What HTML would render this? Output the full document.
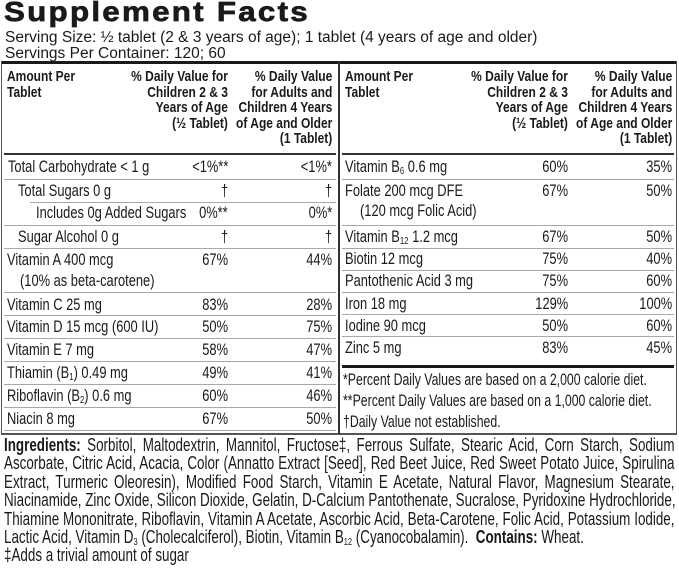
<!DOCTYPE html>
<html><head><meta charset="utf-8"><style>
body{margin:0;width:679px;height:584px;background:#fff;position:relative;overflow:hidden;font-family:"Liberation Sans",Arial,sans-serif;color:#1a1a1a}
div{position:absolute;white-space:nowrap}
.t{font-size:16.5px;line-height:18px;transform:scaleX(.78);transform-origin:left center}
.r{font-size:16.5px;line-height:18px;transform:scaleX(.78);transform-origin:right center;text-align:right}
.h{font-size:15px;font-weight:bold;line-height:15.5px;transform:scaleX(.8);transform-origin:left top}
.hr{font-size:15px;font-weight:bold;line-height:15.5px;transform:scaleX(.8);transform-origin:right top;text-align:right}
.s{height:1px;background:#a8a8a8}
sub{font-size:10px;vertical-align:-2px;line-height:0}
.ing{left:4px;width:900px;font-size:18px;line-height:18.4px;transform:scaleX(.745);transform-origin:left top;white-space:normal}
.ing p{margin:0;text-align:justify;text-align-last:justify;white-space:nowrap}
.ing p.l{text-align-last:left}
.ib{display:inline-block}
</style></head><body>
<div style="left:4px;top:-4px;font-size:28px;font-weight:900;letter-spacing:2px;-webkit-text-stroke:.7px #1a1a1a;transform:scaleX(1.12);transform-origin:left top">Supplement Facts</div>
<div style="left:5px;top:29px;font-size:15.5px;line-height:17px">Serving Size: ½ tablet (2 &amp; 3 years of age); 1 tablet (4 years of age and older)</div>
<div style="left:5px;top:45px;font-size:15.5px;line-height:17px">Servings Per Container: 120; 60</div>
<!-- box -->
<div style="left:1px;top:61px;width:675px;height:3px;background:#1a1a1a"></div>
<div style="left:1px;top:61px;width:1px;height:374px;background:#555"></div>
<div style="left:676px;top:61px;width:1px;height:374px;background:#555"></div>
<div style="left:1px;top:433px;width:676px;height:1.5px;background:#555"></div>
<div style="left:338px;top:61px;width:2px;height:373px;background:#333"></div>
<!-- headers -->
<div class="h" style="left:7px;top:69px">Amount Per<br>Tablet</div>
<div class="hr" style="right:451px;top:69px">% Daily Value for<br>Children 2 &amp; 3<br>Years of Age<br>(½ Tablet)</div>
<div class="hr" style="right:347px;top:69px">% Daily Value<br>for Adults and<br>Children 4 Years<br>of Age and Older<br>(1 Tablet)</div>
<div class="h" style="left:345px;top:69px">Amount Per<br>Tablet</div>
<div class="hr" style="right:111px;top:69px">% Daily Value for<br>Children 2 &amp; 3<br>Years of Age<br>(½ Tablet)</div>
<div class="hr" style="right:7px;top:69px">% Daily Value<br>for Adults and<br>Children 4 Years<br>of Age and Older<br>(1 Tablet)</div>
<div style="left:4px;top:153px;width:332px;height:1.5px;background:#333"></div>
<div style="left:342px;top:153px;width:332px;height:1.5px;background:#333"></div>
<!-- left rows -->
<div class="t" style="left:8px;top:158px">Total Carbohydrate &lt; 1 g</div>
<div class="r" style="right:451px;top:158px">&lt;1%**</div><div class="r" style="right:347px;top:158px">&lt;1%*</div>
<div class="s" style="left:4px;top:179px;width:332px"></div>
<div class="t" style="left:18px;top:182px">Total Sugars 0 g</div>
<div class="r" style="right:451px;top:182px">†</div><div class="r" style="right:347px;top:182px">†</div>
<div class="s" style="left:30px;top:202px;width:306px"></div>
<div class="t" style="left:36px;top:204px">Includes 0g Added Sugars</div>
<div class="r" style="right:451px;top:204px">0%**</div><div class="r" style="right:347px;top:204px">0%*</div>
<div class="s" style="left:4px;top:225px;width:332px"></div>
<div class="t" style="left:18px;top:228px">Sugar Alcohol 0 g</div>
<div class="r" style="right:451px;top:228px">†</div><div class="r" style="right:347px;top:228px">†</div>
<div class="s" style="left:4px;top:248px;width:332px"></div>
<div class="t" style="left:7px;top:251px">Vitamin A 400 mcg</div>
<div class="t" style="left:20px;top:272px">(10% as beta-carotene)</div>
<div class="r" style="right:451px;top:251px">67%</div><div class="r" style="right:347px;top:251px">44%</div>
<div class="s" style="left:4px;top:292px;width:332px"></div>
<div class="t" style="left:7px;top:296px">Vitamin C 25 mg</div>
<div class="r" style="right:451px;top:296px">83%</div><div class="r" style="right:347px;top:296px">28%</div>
<div class="s" style="left:4px;top:315px;width:332px"></div>
<div class="t" style="left:7px;top:318px">Vitamin D 15 mcg (600 IU)</div>
<div class="r" style="right:451px;top:318px">50%</div><div class="r" style="right:347px;top:318px">75%</div>
<div class="s" style="left:4px;top:338px;width:332px"></div>
<div class="t" style="left:7px;top:341px">Vitamin E 7 mg</div>
<div class="r" style="right:451px;top:341px">58%</div><div class="r" style="right:347px;top:341px">47%</div>
<div class="s" style="left:4px;top:361px;width:332px"></div>
<div class="t" style="left:7px;top:364px">Thiamin (B<sub>1</sub>) 0.49 mg</div>
<div class="r" style="right:451px;top:364px">49%</div><div class="r" style="right:347px;top:364px">41%</div>
<div class="s" style="left:4px;top:384px;width:332px"></div>
<div class="t" style="left:7px;top:387px">Riboflavin (B<sub>2</sub>) 0.6 mg</div>
<div class="r" style="right:451px;top:387px">60%</div><div class="r" style="right:347px;top:387px">46%</div>
<div class="s" style="left:4px;top:407px;width:332px"></div>
<div class="t" style="left:7px;top:410px">Niacin 8 mg</div>
<div class="r" style="right:451px;top:410px">67%</div><div class="r" style="right:347px;top:410px">50%</div>
<div class="s" style="left:4px;top:430px;width:332px"></div>
<!-- right rows -->
<div class="t" style="left:345px;top:158px">Vitamin B<sub>6</sub> 0.6 mg</div>
<div class="r" style="right:111px;top:158px">60%</div><div class="r" style="right:7px;top:158px">35%</div>
<div class="s" style="left:342px;top:179px;width:332px"></div>
<div class="t" style="left:345px;top:182px">Folate 200 mcg DFE</div>
<div class="t" style="left:360px;top:202px">(120 mcg Folic Acid)</div>
<div class="r" style="right:111px;top:182px">67%</div><div class="r" style="right:7px;top:182px">50%</div>
<div class="s" style="left:342px;top:225px;width:332px"></div>
<div class="t" style="left:345px;top:228px">Vitamin B<sub>12</sub> 1.2 mcg</div>
<div class="r" style="right:111px;top:228px">67%</div><div class="r" style="right:7px;top:228px">50%</div>
<div class="s" style="left:342px;top:248px;width:332px"></div>
<div class="t" style="left:345px;top:250px">Biotin 12 mcg</div>
<div class="r" style="right:111px;top:250px">75%</div><div class="r" style="right:7px;top:250px">40%</div>
<div class="s" style="left:342px;top:270px;width:332px"></div>
<div class="t" style="left:345px;top:272px">Pantothenic Acid 3 mg</div>
<div class="r" style="right:111px;top:272px">75%</div><div class="r" style="right:7px;top:272px">60%</div>
<div class="s" style="left:342px;top:292px;width:332px"></div>
<div class="t" style="left:345px;top:295px">Iron 18 mg</div>
<div class="r" style="right:111px;top:295px">129%</div><div class="r" style="right:7px;top:295px">100%</div>
<div class="s" style="left:342px;top:314px;width:332px"></div>
<div class="t" style="left:345px;top:317px">Iodine 90 mcg</div>
<div class="r" style="right:111px;top:317px">50%</div><div class="r" style="right:7px;top:317px">60%</div>
<div class="s" style="left:342px;top:336px;width:332px"></div>
<div class="t" style="left:345px;top:339px">Zinc 5 mg</div>
<div class="r" style="right:111px;top:339px">83%</div><div class="r" style="right:7px;top:339px">45%</div>
<div style="left:342px;top:365px;width:332px;height:3px;background:#1a1a1a"></div>
<div class="t" style="left:343px;top:371px;transform:scaleX(.745)">*Percent Daily Values are based on a 2,000 calorie diet.</div>
<div class="t" style="left:343px;top:392px;transform:scaleX(.745)">**Percent Daily Values are based on a 1,000 calorie diet.</div>
<div class="t" style="left:343px;top:413px;transform:scaleX(.745)">†Daily Value not established.</div>
<!-- ingredients -->
<div class="ing" style="top:436px">
<p><b>Ingredients:</b> Sorbitol, Maltodextrin, Mannitol, <span class="ib">Fructose‡,</span> Ferrous Sulfate, Stearic Acid, Corn Starch, Sodium</p>
<p>Ascorbate, Citric Acid, Acacia, Color (Annatto Extract [Seed], Red Beet Juice, Red Sweet Potato Juice, Spirulina</p>
<p>Extract, Turmeric Oleoresin), Modified Food Starch, Vitamin E Acetate, Natural Flavor, Magnesium Stearate,</p>
<p>Niacinamide, Zinc Oxide, Silicon Dioxide, Gelatin, D-Calcium Pantothenate, Sucralose, Pyridoxine Hydrochloride,</p>
<p>Thiamine Mononitrate, Riboflavin, Vitamin A Acetate, Ascorbic Acid, Beta-Carotene, Folic Acid, Potassium Iodide,</p>
<p class="l">Lactic Acid, Vitamin D<sub>3</sub> (Cholecalciferol), Biotin, Vitamin B<sub>12</sub> (Cyanocobalamin). &nbsp;<b>Contains:</b> Wheat.</p>
<p class="l">‡Adds a trivial amount of sugar</p>
</div>
</body></html>
